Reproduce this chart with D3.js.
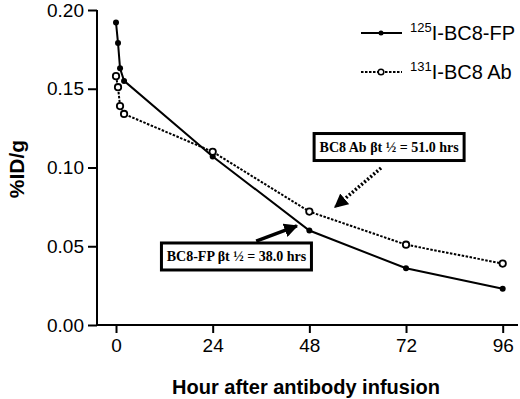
<!DOCTYPE html>
<html><head><meta charset="utf-8">
<script src="https://cdn.jsdelivr.net/npm/d3@7"></script>
<style>body{margin:0;background:#fff}svg{display:block}</style>
</head><body><svg id="c" width="520" height="399" font-family="Liberation Sans, Arial, sans-serif"></svg>
<script>
const hours = [0, 0.5, 1, 2, 24, 48, 72, 96];
const fpValues = [0.192, 0.179, 0.163, 0.155, 0.107, 0.060, 0.036, 0.023];
const abValues = [0.158, 0.151, 0.139, 0.134, 0.110, 0.072, 0.051, 0.039];
const xTicks = [0, 24, 48, 72, 96];
const yTicks = [0, 0.05, 0.10, 0.15, 0.20];
const seriesNames = ["I-BC8-FP", "I-BC8 Ab"];
const seriesSup = ["125", "131"];
const annFP = {text: "BC8-FP \u03B2t \u00BD = 38.0 hrs", cx: 29.9, cy: 0.0435, from: [34.8, 0.0533], to: [44.9, 0.0629]};
const annAb = {text: "BC8 Ab \u03B2t \u00BD = 51.0 hrs", cx: 67.8, cy: 0.113, from: [65.8, 0.0997], to: [54.4, 0.0749]};

const svg = d3.select("#c");
const x = d3.scaleLinear().domain([-4.72, 99.8]).range([97, 518]);
const y = d3.scaleLinear().domain([0, 0.2]).range([325, 10]);

// axes
const xa = svg.append("g").attr("transform", "translate(0,325)")
  .call(d3.axisBottom(x).tickValues(xTicks).tickSize(8).tickSizeOuter(0).tickPadding(6));
const ya = svg.append("g").attr("transform", "translate(97,0)")
  .call(d3.axisLeft(y).tickValues(yTicks).tickSize(9).tickSizeOuter(0).tickPadding(4).tickFormat(d3.format(".2f")));
[xa, ya].forEach(a => {
  a.attr("font-family", null).attr("font-size", null);
  a.selectAll("path,line").attr("stroke", "#000").attr("stroke-width", 2);
  a.selectAll("text").attr("font-size", 19).attr("fill", "#000");
});
xa.select(".domain").attr("d", `M${x.range()[0]},0H${x.range()[1]}`);
ya.select(".domain").attr("d", `M0,${y.range()[1]}V${y.range()[0]}`);

svg.append("text").attr("x", 306).attr("y", 394).attr("text-anchor", "middle")
  .attr("font-size", 20).attr("font-weight", "bold").text("Hour after antibody infusion");
svg.append("text").attr("transform", "translate(24,169) rotate(-90)").attr("text-anchor", "middle")
  .attr("font-size", 21).attr("font-weight", "bold").text("%ID/g");

const line = d3.line().x((d, i) => x(hours[i])).y(d => y(d));
svg.append("path").datum(abValues).attr("d", line).attr("fill", "none").attr("stroke", "#000")
  .attr("stroke-width", 2).attr("stroke-dasharray", "2.5,1.5");
svg.append("path").datum(fpValues).attr("d", line).attr("fill", "none").attr("stroke", "#000")
  .attr("stroke-width", 2);
svg.selectAll("circle.fp").data(fpValues).join("circle").attr("class", "fp")
  .attr("cx", (d, i) => x(hours[i])).attr("cy", d => y(d)).attr("r", 3).attr("fill", "#000");
svg.selectAll("circle.ab").data(abValues).join("circle").attr("class", "ab")
  .attr("cx", (d, i) => x(hours[i])).attr("cy", d => y(d)).attr("r", 3.2).attr("fill", "#fff")
  .attr("stroke", "#000").attr("stroke-width", 1.8);

// legend
const leg = svg.append("g");
[0, 1].forEach(i => {
  const ly = 33 + i * 39;
  leg.append("line").attr("x1", 361).attr("x2", 402).attr("y1", ly).attr("y2", ly)
    .attr("stroke", "#000").attr("stroke-width", 2).attr("stroke-dasharray", i ? "2.5,1.5" : null);
  if (i === 0) leg.append("circle").attr("cx", 381).attr("cy", ly).attr("r", 2.5).attr("fill", "#000");
  else leg.append("circle").attr("cx", 381).attr("cy", ly).attr("r", 2.8).attr("fill", "#fff").attr("stroke", "#000").attr("stroke-width", 1.5);
  const t = leg.append("text").attr("x", 410).attr("y", ly + 7).attr("font-size", 20);
  t.append("tspan").attr("font-size", 13).attr("dy", -8).text(seriesSup[i]);
  t.append("tspan").attr("dy", 8).text(seriesNames[i]);
});

// annotations
const defs = svg.append("defs");
defs.append("marker").attr("id", "ah").attr("viewBox", "0 0 10 10").attr("refX", 9).attr("refY", 5)
  .attr("markerWidth", 4).attr("markerHeight", 4).attr("orient", "auto")
  .append("path").attr("d", "M0,0L10,5L0,10z").attr("fill", "#000");
[annAb, annFP].forEach((a, i) => {
  svg.append("line").attr("x1", x(a.from[0])).attr("y1", y(a.from[1])).attr("x2", x(a.to[0])).attr("y2", y(a.to[1]))
    .attr("stroke", "#000").attr("stroke-width", 3.5).attr("stroke-dasharray", i === 0 ? "2,2" : null)
    .attr("marker-end", "url(#ah)");
  const w = 150, h = 27;
  svg.append("rect").attr("x", x(a.cx) - w / 2).attr("y", y(a.cy) - h / 2).attr("width", w).attr("height", h)
    .attr("fill", "#fff").attr("stroke", "#000").attr("stroke-width", 3);
  svg.append("text").attr("x", x(a.cx)).attr("y", y(a.cy) + 5).attr("text-anchor", "middle")
    .style("font-family", '"Liberation Serif","Times New Roman",serif').attr("font-weight", "bold")
    .attr("font-size", 14).text(a.text);
});
</script></body></html>
